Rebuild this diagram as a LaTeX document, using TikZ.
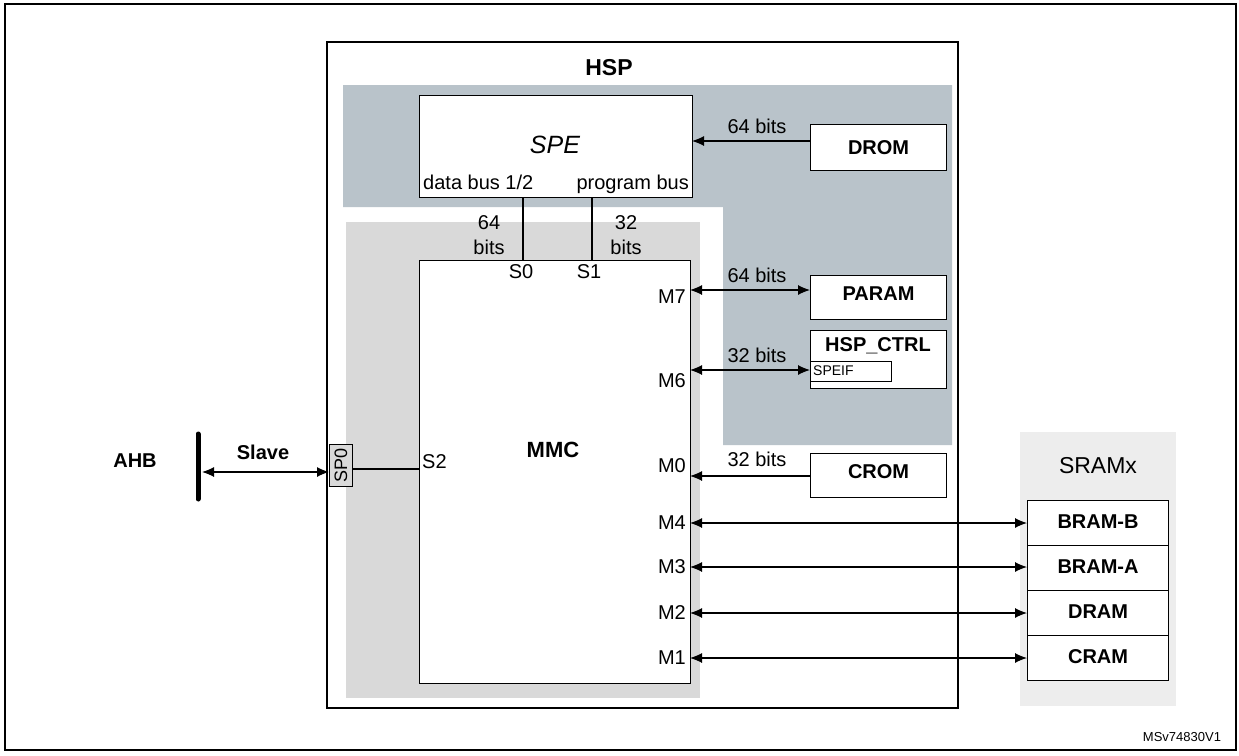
\documentclass[tikz,border=0pt]{standalone}
\usepackage{fontspec}
\setmainfont{Liberation Sans}
\usetikzlibrary{arrows.meta}
\begin{document}
\begin{tikzpicture}[x=1pt,y=-1pt,
  box/.style={draw,fill=white,line width=1.1pt},
  lbl/.style={font=\fontsize{20}{22}\selectfont,inner sep=0pt},
  blbl/.style={font=\fontsize{20}{22}\selectfont\bfseries,inner sep=0pt},
  arr/.style={-{Latex[length=12pt,width=10pt]},line width=1.1pt},
  darr/.style={{Latex[length=12pt,width=10pt]}-{Latex[length=12pt,width=10pt]},line width=1.1pt}]
\definecolor{dg}{HTML}{B9C3CA}
\definecolor{lg}{HTML}{D9D9D9}
\definecolor{sg}{HTML}{EDEDED}
\useasboundingbox (0,0) rectangle (1239,755);
\draw[line width=1.1pt] (5,4) rectangle (1236,750);
\draw[line width=1.1pt] (327,42) rectangle (958,708);
\node[font=\fontsize{23}{25}\selectfont\bfseries] (hsp) at (609,68) {HSP};
\fill[dg] (343,85) -- (952,85) -- (952,445) -- (723,445) -- (723,207) -- (343,207) -- cycle;
\fill[lg] (346,222) rectangle (700,698);
\fill[sg] (1020,432) rectangle (1176,706);
% SPE
\node[box,minimum width=273pt,minimum height=102pt,anchor=north west] (spe) at (419,95) {};
\node[font=\fontsize{25}{27}\selectfont\itshape] (spet) at (555,145) {SPE};
\node[lbl,anchor=base west] (db) at (423,189) {data bus 1/2};
\node[lbl,anchor=base east] (pb) at (689,189) {program bus};
% MMC
\node[box,minimum width=271pt,minimum height=423pt,anchor=north west] (mmc) at (419,260) {};
\draw[line width=1.1pt] (523,197) -- (523,260);
\draw[line width=1.1pt] (592,197) -- (592,260);
\node[lbl,align=center] (l64) at (489,235) {64\\[3pt]bits};
\node[lbl,align=center] (l32) at (626,235) {32\\[3pt]bits};
\node[lbl] (s0) at (521,272) {S0};
\node[lbl] (s1) at (589,272) {S1};
\node[font=\fontsize{22}{24}\selectfont\bfseries] (mmct) at (553,450) {MMC};
\node[lbl,anchor=west] (s2) at (422,462) {S2};
\foreach \n/\y in {M7/297,M6/381,M0/466,M4/523,M3/567,M2/613,M1/658}
  \node[lbl,anchor=east] (\n) at (686,\y) {\n};
% right blocks
\node[box,minimum width=136pt,minimum height=46pt,anchor=north west] (drom) at (810,124) {};
\node[blbl] at (drom.center) {DROM};
\node[box,minimum width=136pt,minimum height=44pt,anchor=north west] (param) at (810,275) {};
\node[blbl] at ([yshift=4pt]param.center) {PARAM};
\node[box,minimum width=136pt,minimum height=58pt,anchor=north west] (ctrl) at (810,330) {};
\node[blbl] at (878,346) {HSP\_CTRL};
\node[draw,line width=1.1pt,minimum width=81pt,minimum height=20pt,anchor=north west,inner sep=0pt] (speif) at (810,361) {};
\node[font=\fontsize{14}{16}\selectfont,anchor=west,inner sep=0pt] at (813,371) {SPEIF};
\node[box,minimum width=136pt,minimum height=44pt,anchor=north west] (crom) at (810,453) {};
\node[blbl] at ([yshift=4pt]crom.center) {CROM};
\coordinate (d1) at (810,141); \coordinate (d2) at (692,141);
\draw[arr] (d1) -- (d2);
\node[lbl] at (757,126) {64 bits};
\coordinate (p1) at (690,290); \coordinate (p2) at (810,290);
\draw[darr] (p1) -- (p2);
\node[lbl] at (757,275) {64 bits};
\coordinate (c1) at (690,370); \coordinate (c2) at (810,370);
\draw[darr] (c1) -- (c2);
\node[lbl] at (757,355) {32 bits};
\coordinate (r1) at (810,476); \coordinate (r2) at (690,476);
\draw[arr] (r1) -- (r2);
\node[lbl] at (757,459) {32 bits};
% SRAM
\node[font=\fontsize{23}{25}\selectfont] (sramx) at (1098,466) {SRAMx};
\foreach \n/\t/\y in {bb/BRAM-B/500,ba/BRAM-A/545,dr/DRAM/590,cr/CRAM/635}{
  \node[box,minimum width=141pt,minimum height=45pt,anchor=north west] (\n) at (1027,\y) {};
  \node[blbl] at ([yshift=1pt]\n.center) {\t};
}
\foreach \y in {523,567,613,658}
  \draw[darr] (690,\y) -- (1027,\y);
% AHB
\node[blbl] (ahb) at (135,461) {AHB};
\draw[line width=5pt,line cap=round] (198,434) -- (198,499);
\node[blbl] (slave) at (263,452) {Slave};
\node[draw,fill=lg,line width=0.8pt,minimum width=23pt,minimum height=42pt,anchor=north west,inner sep=0pt] (sp0) at (329,444) {};
\node[font=\fontsize{18}{20}\selectfont,rotate=90,inner sep=0pt] at (sp0.center) {SP0};
\draw[darr] (202,472) -- (329,472);
\draw[line width=1.1pt] (352,469) -- (419,469);
\node[font=\fontsize{13}{15}\selectfont] (ms) at (1182,737) {MSv74830V1};
\end{tikzpicture}
\end{document}
